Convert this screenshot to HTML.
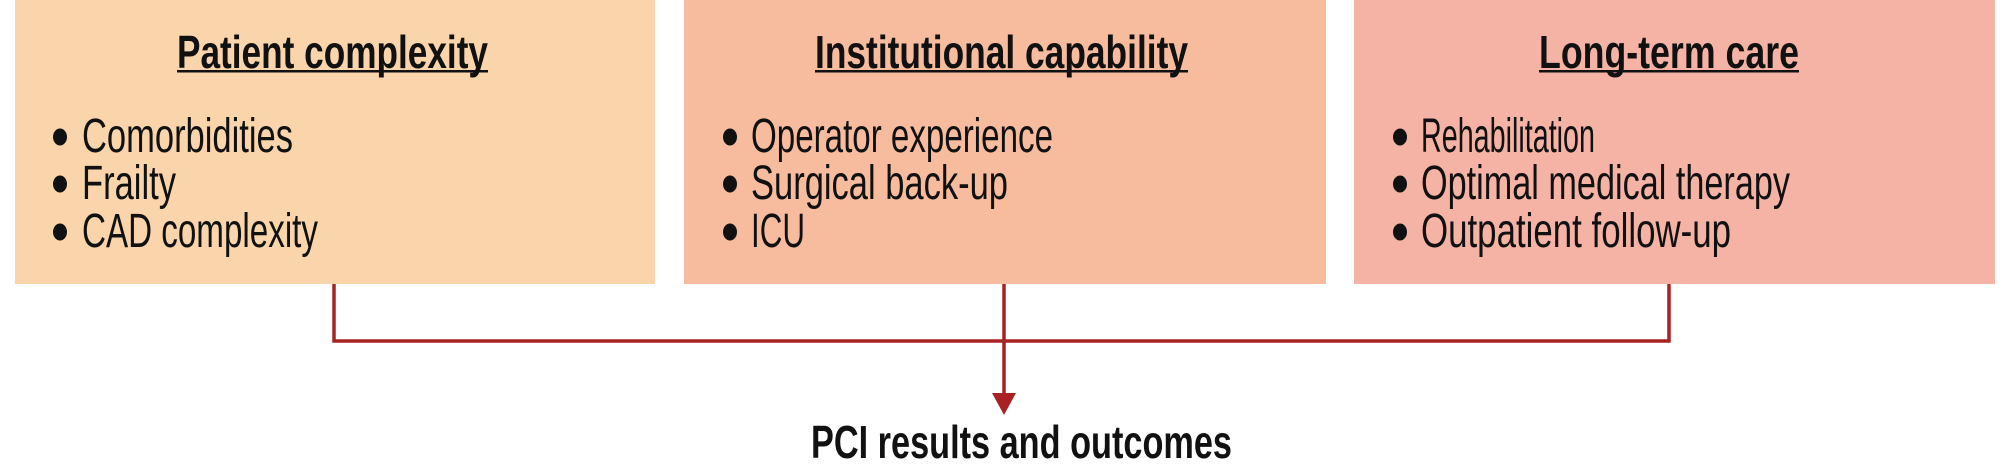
<!DOCTYPE html>
<html><head><meta charset="utf-8"><style>
html,body{margin:0;padding:0;background:#fff;}
svg{display:block;}
text{font-family:"Liberation Sans",sans-serif;fill:#111;}
.t{font-weight:bold;font-size:46px;}
.i{font-size:48px;}
</style></head><body>
<svg width="2009" height="469" viewBox="0 0 2009 469" xmlns="http://www.w3.org/2000/svg">
<rect x="15" y="0" width="640" height="284" fill="#FAD4AA"/>
<rect x="684" y="0" width="642" height="284" fill="#F7BC9E"/>
<rect x="1354" y="0" width="641" height="284" fill="#F4B3A5"/>

<g stroke="#A82224" stroke-width="3.5" fill="none">
<path d="M334 284 V341 H1669 V284"/>
<path d="M1004 284 V395"/>
</g>
<polygon points="992,393 1016,393 1004,415" fill="#A82224"/>

<text class="t" x="177" y="68" textLength="311" lengthAdjust="spacingAndGlyphs">Patient complexity</text>
<rect x="177" y="70" width="311" height="2.5" fill="#111"/>
<text class="t" x="815" y="68" textLength="373" lengthAdjust="spacingAndGlyphs">Institutional capability</text>
<rect x="815" y="70" width="373" height="2.5" fill="#111"/>
<text class="t" x="1539" y="68" textLength="260" lengthAdjust="spacingAndGlyphs">Long-term care</text>
<rect x="1539" y="70" width="260" height="2.5" fill="#111"/>

<g fill="#111">
<ellipse cx="60" cy="137" rx="7" ry="8.5"/><ellipse cx="60" cy="184" rx="7" ry="8.5"/><ellipse cx="60" cy="232" rx="7" ry="8.5"/>
<ellipse cx="730" cy="137" rx="7" ry="8.5"/><ellipse cx="730" cy="184" rx="7" ry="8.5"/><ellipse cx="730" cy="232" rx="7" ry="8.5"/>
<ellipse cx="1400" cy="137" rx="7" ry="8.5"/><ellipse cx="1400" cy="184" rx="7" ry="8.5"/><ellipse cx="1400" cy="232" rx="7" ry="8.5"/>
</g>
<text class="i" x="82" y="152" textLength="211" lengthAdjust="spacingAndGlyphs">Comorbidities</text>
<text class="i" x="82" y="199" textLength="94" lengthAdjust="spacingAndGlyphs">Frailty</text>
<text class="i" x="82" y="247" textLength="236" lengthAdjust="spacingAndGlyphs">CAD complexity</text>

<text class="i" x="751" y="152" textLength="302" lengthAdjust="spacingAndGlyphs">Operator experience</text>
<text class="i" x="751" y="199" textLength="257" lengthAdjust="spacingAndGlyphs">Surgical back-up</text>
<text class="i" x="751" y="247" textLength="54" lengthAdjust="spacingAndGlyphs">ICU</text>

<text class="i" x="1421" y="152" textLength="174" lengthAdjust="spacingAndGlyphs">Rehabilitation</text>
<text class="i" x="1421" y="199" textLength="369" lengthAdjust="spacingAndGlyphs">Optimal medical therapy</text>
<text class="i" x="1421" y="247" textLength="310" lengthAdjust="spacingAndGlyphs">Outpatient follow-up</text>

<text class="t" x="811" y="458" textLength="421" lengthAdjust="spacingAndGlyphs">PCI results and outcomes</text>
</svg>
</body></html>
